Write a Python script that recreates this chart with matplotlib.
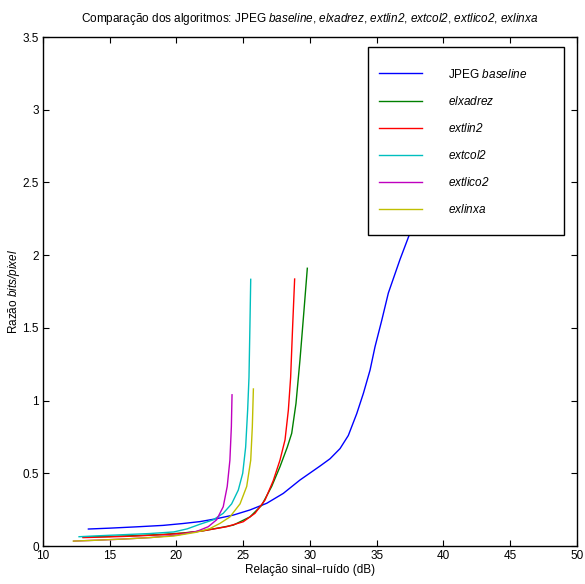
import matplotlib
matplotlib.use("Agg")
import matplotlib.pyplot as plt
from matplotlib.patches import Rectangle

plt.rcParams["font.family"] = ["Liberation Sans", "DejaVu Sans"]
plt.rcParams["mathtext.fontset"] = "custom"
plt.rcParams["mathtext.it"] = "Liberation Sans:italic"
plt.rcParams["mathtext.rm"] = "Liberation Sans:italic"

# JPEG baseline
x_jpeg = [13.4, 15, 17, 19, 20.5, 21.76, 23.0, 24.26, 25.5, 26.76, 28.0, 29.25, 30.75,
          31.5, 32.25, 32.87, 33.5, 34.0, 34.5, 34.87, 35.37, 35.87, 36.74, 37.44, 38.5, 39.5]
y_jpeg = [0.117, 0.123, 0.132, 0.142, 0.155, 0.168, 0.188, 0.213, 0.248, 0.294, 0.362, 0.454, 0.55,
          0.60, 0.67, 0.76, 0.91, 1.05, 1.21, 1.37, 1.55, 1.74, 1.97, 2.14, 2.4, 2.65]

x_elxadrez = [13.0, 15, 17, 19, 20.5, 22, 23.2, 24.26, 25.5, 26.38, 27.13, 27.75, 28.3,
              28.63, 28.95, 29.25, 29.55, 29.8]
y_elxadrez = [0.062, 0.066, 0.072, 0.08, 0.09, 0.105, 0.125, 0.144, 0.20, 0.28, 0.41, 0.545, 0.68,
              0.775, 0.98, 1.28, 1.62, 1.91]

x_extlin2 = [13.0, 15, 17, 19, 20.5, 22, 23.76, 25.0, 25.88, 26.63, 27.25, 27.75, 28.13,
             28.38, 28.55, 28.7, 28.85]
y_extlin2 = [0.058, 0.063, 0.069, 0.078, 0.088, 0.105, 0.133, 0.167, 0.225, 0.316, 0.45, 0.59, 0.73,
             0.935, 1.16, 1.51, 1.836]

x_extcol2 = [12.7, 14, 16, 18, 19.8, 20.8, 21.76, 22.75, 23.5, 24.13, 24.63, 24.96, 25.18,
             25.33, 25.43, 25.5, 25.56]
y_extcol2 = [0.064, 0.070, 0.078, 0.086, 0.097, 0.118, 0.15, 0.18, 0.225, 0.29, 0.385, 0.50, 0.68,
             0.935, 1.16, 1.51, 1.834]

x_extlico2 = [12.3, 14, 16, 18, 20, 21.5, 22.38, 23.0, 23.5, 23.8, 24.0, 24.11, 24.16]
y_extlico2 = [0.034, 0.040, 0.048, 0.058, 0.075, 0.10, 0.133, 0.18, 0.27, 0.41, 0.59, 0.82, 1.04]

x_exlinxa = [12.27, 14, 16, 18, 19.8, 21.5, 22.5, 23.26, 24.0, 24.76, 25.26, 25.56, 25.68, 25.76]
y_exlinxa = [0.034, 0.040, 0.048, 0.058, 0.069, 0.095, 0.12, 0.156, 0.20, 0.29, 0.41, 0.59, 0.82, 1.08]

x_ticks = [10, 15, 20, 25, 30, 35, 40, 45, 50]
y_ticks = [0, 0.5, 1, 1.5, 2, 2.5, 3, 3.5]
y_tick_labels = ["0", "0.5", "1", "1.5", "2", "2.5", "3", "3.5"]

series = [
    (x_jpeg, y_jpeg, (0, 0, 1), r"JPEG $\mathit{baseline}$"),
    (x_elxadrez, y_elxadrez, (0, 0.5, 0), r"$\mathit{elxadrez}$"),
    (x_extlin2, y_extlin2, (1, 0, 0), r"$\mathit{extlin2}$"),
    (x_extcol2, y_extcol2, (0, 0.75, 0.75), r"$\mathit{extcol2}$"),
    (x_extlico2, y_extlico2, (0.75, 0, 0.75), r"$\mathit{extlico2}$"),
    (x_exlinxa, y_exlinxa, (0.75, 0.75, 0), r"$\mathit{exlinxa}$"),
]

fig = plt.figure(figsize=(5.85, 5.84), dpi=100)
ax = fig.add_axes([0.0735, 0.065, 0.9128, 0.8716])

for xs, ys, c, lab in series:
    ax.plot(xs, ys, color=c, lw=1.0, label=lab)

ax.set_xlim(10, 50)
ax.set_ylim(0, 3.5)
ax.set_xticks(x_ticks)
ax.set_yticks(y_ticks)
ax.set_yticklabels(y_tick_labels)
ax.tick_params(direction="in", length=4, top=True, right=True, labelsize=8.5, pad=3)
for s in ax.spines.values():
    s.set_linewidth(1.0)

ax.set_xlabel("Relação sinal−ruído (dB)", fontsize=8.5, labelpad=1)
ax.set_ylabel(r"Razão $\mathit{bits/pixel}$", fontsize=8.5, labelpad=0)
ax.set_title(r"Comparação dos algoritmos: JPEG $\mathit{baseline}$, $\mathit{elxadrez}$, "
             r"$\mathit{extlin2}$, $\mathit{extcol2}$, $\mathit{extlico2}$, $\mathit{exlinxa}$",
             fontsize=8.5, pad=11)

box = Rectangle((0.6086, 0.611), 0.3671, 0.369, transform=ax.transAxes,
                facecolor="white", edgecolor="black", lw=1.0, zorder=4)
ax.add_patch(box)
ax.legend(loc="upper left", bbox_to_anchor=(0.629, 0.940), frameon=False,
          borderpad=0, borderaxespad=0, fontsize=8.5, handlelength=3.64,
          handletextpad=2.2, labelspacing=1.2)

fig.savefig("out.png", dpi=100)
